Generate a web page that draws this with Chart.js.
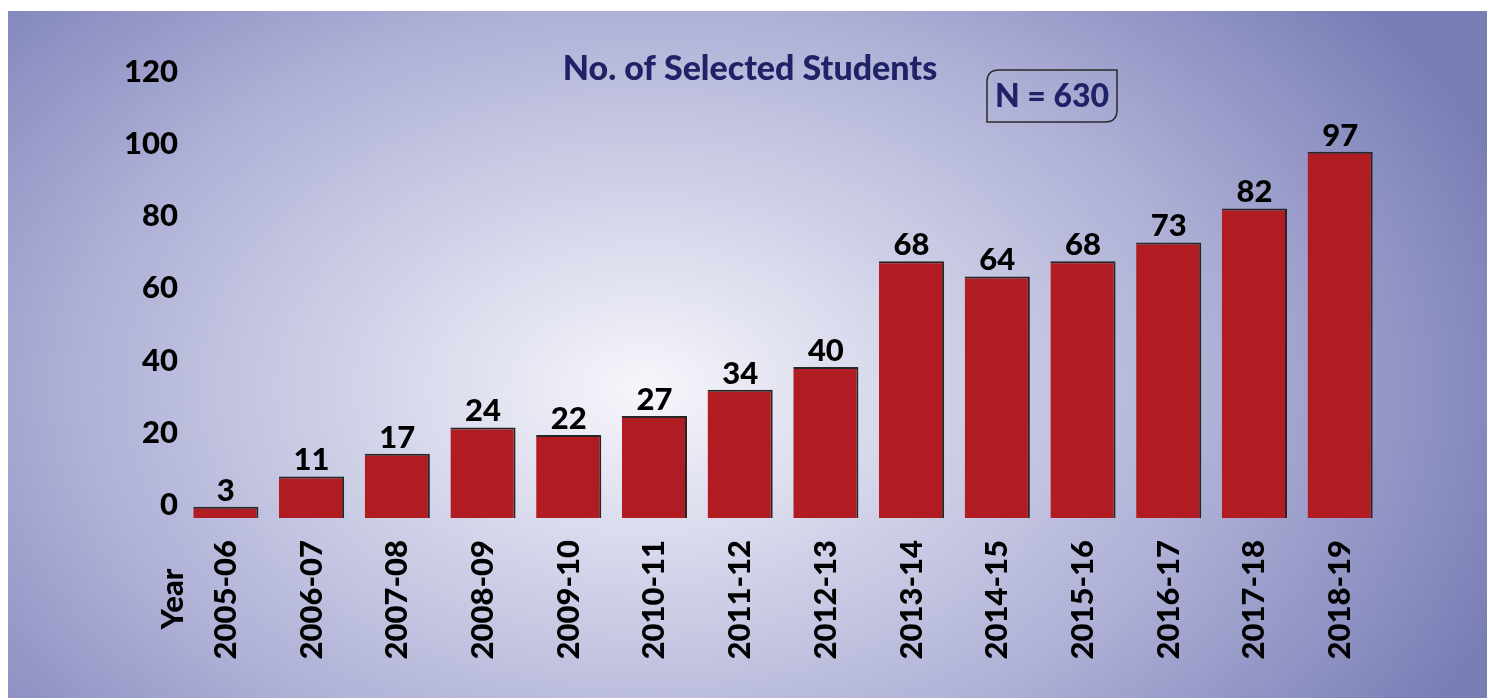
<!DOCTYPE html>
<html>
<head>
<meta charset="utf-8">
<script src="https://cdn.jsdelivr.net/npm/chart.js@4.4.0/dist/chart.umd.min.js"></script>
<style>
  html, body { margin: 0; padding: 0; background: #fff; }
  #panel {
    position: absolute; left: 8px; top: 11px; width: 1479px; height: 687px;
    background: radial-gradient(ellipse 62% 90% at 43% 55%, #f6f6fb 0%, #d3d4e9 30%, #aeb0d6 62%, #7a7eb6 100%);
  }
  #wrap { position: absolute; left: 0; top: 0; width: 1487px; height: 698px; }
</style>
</head>
<body>
<div id="panel"></div>
<div id="wrap"><canvas id="myChart"></canvas></div>
<script>
const years = ['2005-06', '2006-07', '2007-08', '2008-09', '2009-10', '2010-11', '2011-12',
  '2012-13', '2013-14', '2014-15', '2015-16', '2016-17', '2017-18', '2018-19'];
const selected = [3, 11, 17, 24, 22, 27, 34, 40, 68, 64, 68, 73, 82, 97];
const yTicks = [0, 20, 40, 60, 80, 100, 120];
const chartTitle = 'No. of Selected Students';
const totalText = 'N = 630';

const FONT = 'Lato, "Open Sans", sans-serif';
const W = '900';

// value labels above the bars + title, N box and "Year"
const extras = {
  id: 'extras',
  afterDatasetsDraw(chart) {
    const ctx = chart.ctx;
    const area = chart.chartArea;
    const meta = chart.getDatasetMeta(0);
    ctx.save();
    ctx.fillStyle = '#000';
    ctx.font = W + ' 31px ' + FONT;
    ctx.textAlign = 'center';
    ctx.textBaseline = 'alphabetic';
    meta.data.forEach((bar, i) => {
      ctx.fillText(String(selected[i]), bar.x, bar.y - 6);
    });

    // title
    ctx.fillStyle = '#1f2266';
    ctx.font = W + ' 34px ' + FONT;
    ctx.fillText(chartTitle, 750, 80);

    // N = 630 box (round diagonal corners)
    const bx = 987, by = 70, bw = 130, bh = 52, r = 12;
    ctx.beginPath();
    ctx.moveTo(bx + r, by);
    ctx.lineTo(bx + bw, by);
    ctx.lineTo(bx + bw, by + bh - r);
    ctx.quadraticCurveTo(bx + bw, by + bh, bx + bw - r, by + bh);
    ctx.lineTo(bx, by + bh);
    ctx.lineTo(bx, by + r);
    ctx.quadraticCurveTo(bx, by, bx + r, by);
    ctx.closePath();
    ctx.lineWidth = 1.5;
    ctx.strokeStyle = '#2a2a2a';
    ctx.stroke();
    ctx.fillStyle = '#1f2266';
    ctx.font = W + ' 32px ' + FONT;
    ctx.textBaseline = 'middle';
    ctx.fillText(totalText, bx + bw / 2, by + bh / 2 + 1);

    // "Year" axis caption
    ctx.fillStyle = '#000';
    ctx.font = W + ' 31px ' + FONT;
    ctx.translate(area.left - 10, area.bottom + 81);
    ctx.rotate(-Math.PI / 2);
    ctx.textAlign = 'center';
    ctx.textBaseline = 'middle';
    ctx.fillText('Year', 0, 0);
    ctx.restore();
  }
};

const ctx = document.getElementById('myChart').getContext('2d');
new Chart(ctx, {
  type: 'bar',
  data: {
    labels: years,
    datasets: [{
      data: selected,
      yAxisID: 'yBars',
      backgroundColor: '#b01c22',
      borderColor: '#262626',
      borderWidth: { top: 2, right: 2, left: 0, bottom: 0 },
      borderSkipped: false,
      categoryPercentage: 1,
      barPercentage: 0.76,
    }],
  },
  options: {
    responsive: true,
    maintainAspectRatio: false,
    animation: false,
    layout: { padding: { top: 65, right: 104, left: 0, bottom: 0 } },
    plugins: {
      legend: { display: false },
      tooltip: { enabled: false },
    },
    scales: {
      x: {
        grid: { display: false, drawTicks: false },
        border: { display: false },
        ticks: {
          color: '#000',
          font: { family: FONT, size: 31, weight: W },
          minRotation: 90,
          maxRotation: 90,
          padding: 22,
          autoSkip: false,
        },
        afterFit(scale) { scale.height = 180; },
      },
      y: {
        position: 'left',
        min: -3.6,
        max: 121.9,
        grid: { display: false, drawTicks: false },
        border: { display: false },
        afterBuildTicks(scale) { scale.ticks = yTicks.map(v => ({ value: v })); },
        ticks: {
          color: '#000',
          font: { family: FONT, size: 31, weight: W },
          padding: 5,
        },
        afterFit(scale) { scale.width = 183; },
      },
      yBars: {
        display: false,
        min: 0,
        max: 120,
      },
    },
  },
  plugins: [extras],
});
</script>
</body>
</html>
